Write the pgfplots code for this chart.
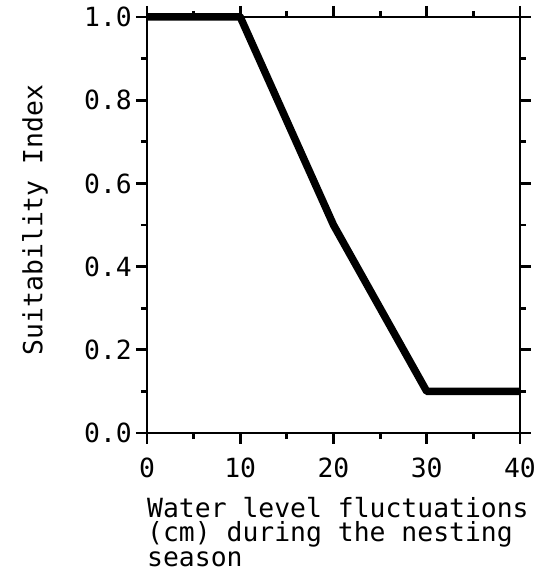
\documentclass[border=0pt]{standalone}
\usepackage{pgfplots}
\pgfplotsset{compat=1.18}
\usepackage{fontspec}
\setmainfont{DejaVu Sans Mono}

\begin{document}
\fontsize{26.5}{24.5}\selectfont
\begin{tikzpicture}
\begin{axis}[
  scale only axis, width=373bp, height=416bp,
  xmin=0, xmax=40, ymin=0, ymax=1,
  xtick={0,10,...,40}, ytick={0,0.2,0.4,0.6,0.8,1.0},
  xticklabels={0,10,20,30,40},
  yticklabels={0.0,0.2,0.4,0.6,0.8,1.0},
  minor x tick num=1, minor y tick num=1,
  tick align=outside, major tick length=11bp, minor tick length=6bp,
  axis line style={line width=2.8bp},
  every tick/.style={line width=2.8bp, black},
  /pgf/number format/assume math mode=true,
  xticklabel style={inner sep=0pt, yshift=-14bp},
  yticklabel style={inner sep=0pt, xshift=-4bp},
  xlabel={Water level fluctuations\\(cm) during the nesting\\season},
  xlabel style={at={(rel axis cs:0,0)}, anchor=north west, inner sep=0pt,
    xshift=0bp, yshift=-64bp, align=left},
  ylabel={Suitability Index},
  ylabel style={at={(rel axis cs:0,0.5)}, anchor=center, xshift=5bp, yshift=112bp},
  clip=false,
]
%index curve
\addplot[black, line width=7.5bp, line join=round] coordinates {(0,1) (10,1) (20,0.5) (30,0.1) (40,0.1)};
\coordinate (bl) at (rel axis cs:0,0);
\coordinate (tr) at (rel axis cs:1,1);
\end{axis}
\pgfresetboundingbox
\path[use as bounding box] ([shift={(-147bp,-138bp)}]bl) rectangle ([shift={(28bp,17bp)}]tr);
\end{tikzpicture}
\end{document}
